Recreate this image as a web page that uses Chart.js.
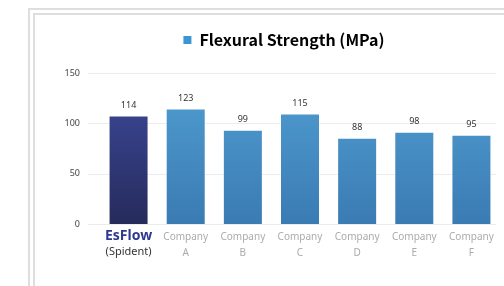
<!DOCTYPE html>
<html lang="en">
<head>
    <meta charset="UTF-8">
    <title>Flexural Strength (MPa)</title>
    <script src="https://cdn.jsdelivr.net/npm/chart.js"></script>
    <style>
        body {
            margin: 0;
            background: #fff;
            overflow: hidden;
        }
        .frame {
            position: absolute;
            left: 28px;
            top: 8px;
            width: 600px;
            height: 400px;
            border: 7px double #dedede;
        }
        .chart-container {
            position: absolute;
            left: 0;
            top: 0;
            width: 504px;
            height: 286px;
        }
    </style>
</head>
<body>
    <div class="frame"></div>
    <div class="chart-container">
        <canvas id="myChart" width="504" height="286"></canvas>
    </div>
    <script>
        // categories (two lines each)
        const categories = [
            ['EsFlow', '(Spident)'],
            ['Company', 'A'],
            ['Company', 'B'],
            ['Company', 'C'],
            ['Company', 'D'],
            ['Company', 'E'],
            ['Company', 'F']
        ];
        // bar heights as drawn in the picture
        const barValues = [107.7, 114.8, 93.6, 109.8, 85.6, 91.6, 88.6];
        // numbers printed above the bars
        const valueLabels = ['114', '123', '99', '115', '88', '98', '95'];
        const yTicks = [0, 50, 100, 150];
        const seriesName = 'Flexural Strength (MPa)';

        function barGradient(context) {
            const chart = context.chart;
            const area = chart.chartArea;
            if (!area) return '#3c8fc8';
            const g = chart.ctx.createLinearGradient(0, area.top, 0, area.bottom);
            if (context.dataIndex === 0) {
                g.addColorStop(0, '#3e4b9e');
                g.addColorStop(1, '#262b5c');
            } else {
                g.addColorStop(0, '#519fd2');
                g.addColorStop(1, '#3a7bb3');
            }
            return g;
        }

        // extra space under the legend line, and centre it over the plot
        const legendGap = {
            id: 'legendGap',
            beforeInit(chart) {
                const fit = chart.legend.fit;
                chart.legend.fit = function () {
                    fit.call(this);
                    this.height += 15;
                };
            },
            afterLayout(chart) {
                chart.legend.left += 34;
                chart.legend.right += 34;
            }
        };

        // light grid lines, a bit wider than the bars' area
        const gridPlugin = {
            id: 'grid',
            beforeDatasetsDraw(chart) {
                const ctx = chart.ctx;
                const y = chart.scales.y;
                const area = chart.chartArea;
                ctx.save();
                ctx.strokeStyle = '#ececec';
                ctx.lineWidth = 1;
                yTicks.forEach(v => {
                    const py = Math.round(y.getPixelForValue(v)) + 0.5;
                    ctx.beginPath();
                    ctx.moveTo(area.left - 12, py);
                    ctx.lineTo(area.right - 4, py);
                    ctx.stroke();
                });
                ctx.restore();
            }
        };

        // value labels above bars + category labels below
        const labelPlugin = {
            id: 'labels',
            afterDatasetsDraw(chart) {
                const ctx = chart.ctx;
                const meta = chart.getDatasetMeta(0);
                const x = chart.scales.x;
                const bottom = chart.chartArea.bottom;
                ctx.save();
                ctx.textAlign = 'center';
                ctx.textBaseline = 'middle';
                meta.data.forEach((bar, i) => {
                    ctx.fillStyle = '#333';
                    ctx.font = '9px "Noto Sans"';
                    ctx.fillText(valueLabels[i], bar.x, bar.y - 10);

                    const px = x.getPixelForValue(i);
                    if (i === 0) {
                        ctx.fillStyle = '#2d3a8f';
                        ctx.font = 'bold 14px "Noto Sans"';
                        ctx.fillText(categories[i][0], px, bottom + 12);
                        ctx.fillStyle = '#333';
                        ctx.font = '11px "Noto Sans"';
                        ctx.fillText(categories[i][1], px, bottom + 28);
                    } else {
                        ctx.fillStyle = '#ababab';
                        ctx.font = '10px "Noto Sans"';
                        ctx.fillText(categories[i][0], px, bottom + 13);
                        ctx.fillText(categories[i][1], px, bottom + 29);
                    }
                });
                ctx.restore();
            }
        };

        const ctx = document.getElementById('myChart').getContext('2d');
        const myChart = new Chart(ctx, {
            type: 'bar',
            data: {
                labels: categories,
                datasets: [{
                    label: seriesName,
                    data: barValues,
                    backgroundColor: barGradient,
                    borderColor: 'rgba(255,255,255,0.35)',
                    borderWidth: 1,
                    categoryPercentage: 0.7,
                    barPercentage: 1.0
                }]
            },
            options: {
                responsive: false,
                animation: false,
                devicePixelRatio: 1,
                layout: {
                    padding: { left: 0, right: 4, top: 7, bottom: 54 }
                },
                scales: {
                    x: {
                        display: true,
                        grid: { display: false },
                        border: { display: false },
                        ticks: { display: false }
                    },
                    y: {
                        min: 0,
                        max: 150,
                        grid: { display: false, drawTicks: false },
                        border: { display: false },
                        afterFit(scale) { scale.width = 100; },
                        ticks: {
                            stepSize: 50,
                            padding: 20,
                            color: '#444',
                            font: { family: 'Noto Sans', size: 9 }
                        }
                    }
                },
                plugins: {
                    legend: {
                        display: true,
                        labels: {
                            boxWidth: 8,
                            boxHeight: 8,
                            padding: 25,
                            color: '#333',
                            font: { family: 'Noto Sans CJK KR', size: 16, weight: 'bold' },
                            generateLabels() {
                                return [{
                                    text: seriesName,
                                    fillStyle: '#3a97d4',
                                    strokeStyle: '#3a97d4',
                                    lineWidth: 0,
                                    datasetIndex: 0
                                }];
                            }
                        }
                    },
                    tooltip: { enabled: false }
                }
            },
            plugins: [legendGap, gridPlugin, labelPlugin]
        });
    </script>
</body>
</html>
